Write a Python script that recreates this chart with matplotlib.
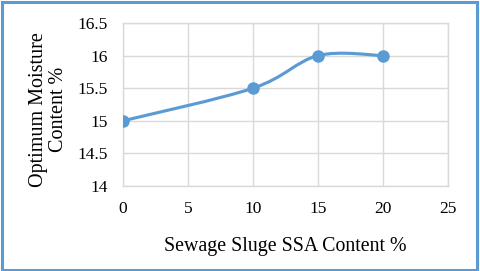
import matplotlib
matplotlib.use('Agg')
import matplotlib.pyplot as plt
from matplotlib.path import Path
from matplotlib.patches import PathPatch, Rectangle

# data
ssa_content = [0, 10, 15, 20]
moisture = [15.0, 15.5, 16.0, 16.0]
x_ticks = [0, 5, 10, 15, 20, 25]
y_ticks = [14, 14.5, 15, 15.5, 16, 16.5]
y_tick_labels = ['14', '14.5', '15', '15.5', '16', '16.5']

blue = '#5B9BD5'
grid_grey = '#D9D9D9'

plt.rcParams['font.family'] = ['Liberation Serif', 'DejaVu Serif']

fig = plt.figure(figsize=(4.8, 2.71), dpi=100)
ax = fig.add_axes([123 / 480, 1 - 186 / 271, 325 / 480, 163 / 271])

# excel style smoothed line (bezier through the points)
verts = [(ssa_content[0], moisture[0])]
codes = [Path.MOVETO]
n = len(ssa_content)
for i in range(n - 1):
    p0 = (ssa_content[max(i - 1, 0)], moisture[max(i - 1, 0)])
    p1 = (ssa_content[i], moisture[i])
    p2 = (ssa_content[i + 1], moisture[i + 1])
    p3 = (ssa_content[min(i + 2, n - 1)], moisture[min(i + 2, n - 1)])
    c1 = (p1[0] + (p2[0] - p0[0]) / 6, p1[1] + (p2[1] - p0[1]) / 6)
    c2 = (p2[0] - (p3[0] - p1[0]) / 6, p2[1] - (p3[1] - p1[1]) / 6)
    verts += [c1, c2, p2]
    codes += [Path.CURVE4] * 3
ax.add_patch(PathPatch(Path(verts, codes), facecolor='none', edgecolor=blue,
                       lw=2.25, capstyle='round', zorder=3))
ax.plot(ssa_content, moisture, 'o', color=blue, markersize=8, zorder=4)

ax.set_xlim(0, 25)
ax.set_ylim(14, 16.5)
ax.set_xticks(x_ticks)
ax.set_yticks(y_ticks)
ax.set_yticklabels(y_tick_labels)
ax.tick_params(length=0, labelsize=12.5, colors='#000000')
ax.tick_params(axis='y', pad=11)
ax.tick_params(axis='x', pad=11)
ax.grid(True, color=grid_grey, lw=1.0)
ax.set_axisbelow(True)
for s in ax.spines.values():
    s.set_color(grid_grey)
    s.set_linewidth(1.0)

ax.set_xlabel('Sewage Sluge SSA Content %', fontsize=14.3)
ax.xaxis.set_label_coords(0.5, -0.31)
ax.set_ylabel('Optimum Moisture\nContent %', fontsize=14.5, linespacing=1.05)
ax.yaxis.set_label_coords(-0.169, 0.47)

fig.patches.append(Rectangle((1.5 / 480, 1.5 / 271), 475 / 480, 268 / 271,
                             transform=fig.transFigure, fill=False,
                             edgecolor=blue, lw=2.2))

fig.savefig('out.png', dpi=100)
